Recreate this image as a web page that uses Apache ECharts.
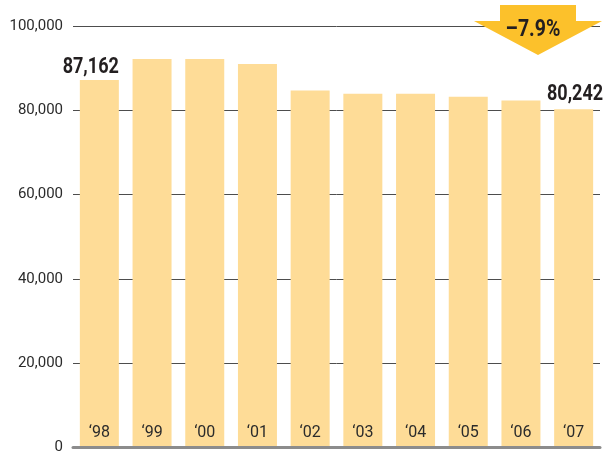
<!DOCTYPE html>
<html>
<head>
<meta charset="utf-8">
<script src="https://cdn.jsdelivr.net/npm/echarts@6/dist/echarts.min.js"></script>
<style>
  html, body { margin: 0; padding: 0; background: #fff; }
  #chart { width: 609px; height: 455px; }
</style>
</head>
<body>
<div id="chart"></div>
<script>
const categories = ['\u201898', '\u201899', '\u201800', '\u201801', '\u201802', '\u201803', '\u201804', '\u201805', '\u201806', '\u201807']
const values = [87162, 92200, 92200, 91000, 84700, 83900, 83900, 83200, 82300, 80242]
const yTicks = [0, 20000, 40000, 60000, 80000, 100000]
const changeText = '\u20137.9%'

const font = 'Roboto, "Noto Sans", sans-serif'
const barColor = '#fedc97'
const textColor = '#231f20'

const fmt = function(v) {
  return String(v).replace(/\B(?=(\d{3})+(?!\d))/g, ',')
}

const chart = echarts.init(document.getElementById('chart'))
chart.setOption({
  animation: false,
  grid: { left: 73, right: 9, top: 26, bottom: 6 },
  xAxis: {
    type: 'category',
    data: categories,
    axisTick: { show: false },
    axisLabel: {
      inside: true,
      margin: 7,
      fontFamily: font,
      fontSize: 16,
      color: '#2b2b2b'
    },
    axisLine: { show: true, lineStyle: { color: '#8c8c8c', width: 3 } },
    z: 5
  },
  yAxis: {
    type: 'value',
    min: 0,
    max: 100000,
    interval: 20000,
    axisLine: { show: false },
    axisTick: { show: false },
    axisLabel: {
      margin: 10,
      fontFamily: font,
      fontSize: 15,
      color: '#2b2b2b',
      formatter: function(v) { return yTicks.indexOf(v) >= 0 ? fmt(v) : '' }
    },
    splitLine: { lineStyle: { color: '#4d4d4d', width: 1 } }
  },
  series: [{
    type: 'bar',
    data: values,
    barCategoryGap: '26%',
    z: 1,
    itemStyle: { color: barColor }
  }]
})

// value callouts for the first and last year, placed from the bar scale
const first = chart.convertToPixel({ seriesIndex: 0 }, [0, values[0]])
const last = chart.convertToPixel({ seriesIndex: 0 }, [values.length - 1, values[values.length - 1]])
const half = chart.getModel().getSeriesByIndex(0).getData().getLayout('size') / 2

const bold = {
  fontFamily: font,
  fontWeight: 'bold',
  fontSize: 22,
  fill: textColor,
  align: 'right',
  verticalAlign: 'bottom'
}

chart.setOption({
  graphic: [
    {
      type: 'text',
      z: 100,
      x: first[0] + half,
      y: first[1] - 2,
      scaleX: 0.82,
      style: Object.assign({ text: fmt(values[0]) }, bold)
    },
    {
      type: 'text',
      z: 100,
      x: last[0] + half + 10,
      y: last[1] - 4,
      scaleX: 0.82,
      style: Object.assign({ text: fmt(values[values.length - 1]) }, bold)
    },
    {
      type: 'polygon',
      z: 100,
      shape: {
        points: [[500, 5], [576, 5], [576, 21], [602, 21], [538, 55], [474, 21], [500, 21]]
      },
      style: { fill: '#fcc12b' }
    },
    {
      type: 'text',
      z: 101,
      x: 533,
      y: 30,
      scaleX: 0.85,
      originX: 0,
      style: {
        text: changeText,
        fontFamily: font,
        fontWeight: 'bold',
        fontSize: 23,
        fill: textColor,
        align: 'center',
        verticalAlign: 'middle'
      }
    }
  ]
})
</script>
</body>
</html>
